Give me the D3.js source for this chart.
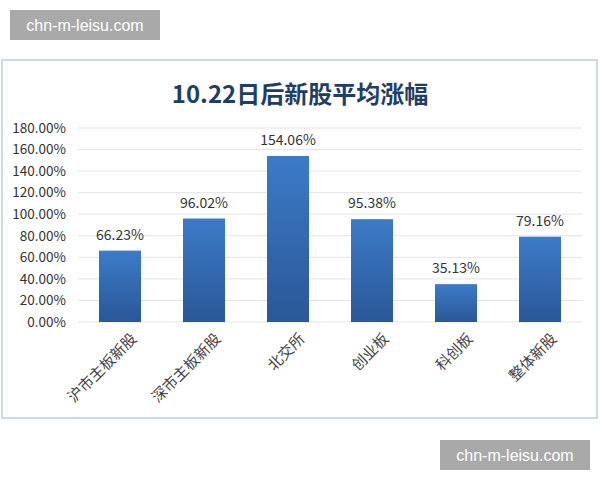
<!DOCTYPE html>
<html><head><meta charset="utf-8">
<script src="https://cdn.jsdelivr.net/npm/d3@7"></script>
<style>body{margin:0;background:#fff}</style>
</head><body>
<script>
const categories = ["沪市主板新股","深市主板新股","北交所","创业板","科创板","整体新股"];
const values = [66.23, 96.02, 154.06, 95.38, 35.13, 79.16];
const ticks = [0,20,40,60,80,100,120,140,160,180];

const svg = d3.select("body").append("svg").attr("width",600).attr("height",480);
const font = "'Noto Sans CJK SC', 'Open Sans', sans-serif";

// frame
svg.append("rect").attr("x",2).attr("y",60).attr("width",595).attr("height",358)
  .attr("fill","#fff").attr("stroke","#c9dbe8").attr("stroke-width",2);

svg.append("text").attr("x",300).attr("y",103).attr("text-anchor","middle")
  .attr("font-family",font).attr("font-weight","bold").attr("font-size",24)
  .attr("fill","#1f3e63").text("10.22日后新股平均涨幅");

const x = d3.scaleBand().domain(categories).range([78,582]).paddingInner(0.5).paddingOuter(0.25);
const y = d3.scaleLinear().domain([0,180]).range([322,128]);

const defs = svg.append("defs");
const g = defs.append("linearGradient").attr("id","bg").attr("x1",0).attr("y1",0).attr("x2",0).attr("y2",1);
g.append("stop").attr("offset","0%").attr("stop-color","#3c7bc8");
g.append("stop").attr("offset","100%").attr("stop-color","#2a5797");

svg.append("g").selectAll("line").data(ticks).join("line")
  .attr("x1",78).attr("x2",582).attr("y1",d=>y(d)).attr("y2",d=>y(d))
  .attr("stroke","#e3e3e3");

const yAxis = svg.append("g").attr("transform","translate(78,0)")
  .call(d3.axisLeft(y).tickValues(ticks).tickSize(0).tickPadding(12).tickFormat(d=>d.toFixed(2)+"%"));
yAxis.select(".domain").remove();
yAxis.selectAll("text").attr("font-family",font).attr("font-size",13.5).attr("fill","#333");

svg.append("g").selectAll("rect").data(values).join("rect")
  .attr("x",(d,i)=>x(categories[i])).attr("width",x.bandwidth())
  .attr("y",d=>y(d)).attr("height",d=>y(0)-y(d)).attr("fill","url(#bg)");

svg.append("g").selectAll("text").data(values).join("text")
  .attr("x",(d,i)=>x(categories[i])+x.bandwidth()/2).attr("y",d=>y(d)-11)
  .attr("text-anchor","middle").attr("font-family",font).attr("font-size",14).attr("fill","#333")
  .text(d=>d.toFixed(2)+"%");

svg.append("g").selectAll("text").data(categories).join("text")
  .attr("transform",d=>`translate(${x(d)+x.bandwidth()/2+14},336) rotate(-45)`)
  .attr("text-anchor","end").attr("dy","0.35em").attr("font-family",font).attr("font-size",15).attr("fill","#444")
  .text(d=>d);

// watermarks
function wm(x0,y0){
  svg.append("rect").attr("x",x0).attr("y",y0).attr("width",150).attr("height",30).attr("fill","#9a9a9a").attr("opacity",0.85);
  svg.append("text").attr("x",x0+75).attr("y",y0+21).attr("text-anchor","middle")
    .attr("font-family","'Liberation Sans', Arial, sans-serif").attr("font-size",16).attr("fill","#fff").text("chn-m-leisu.com");
}
wm(10,10); wm(440,440);
</script>
</body></html>
